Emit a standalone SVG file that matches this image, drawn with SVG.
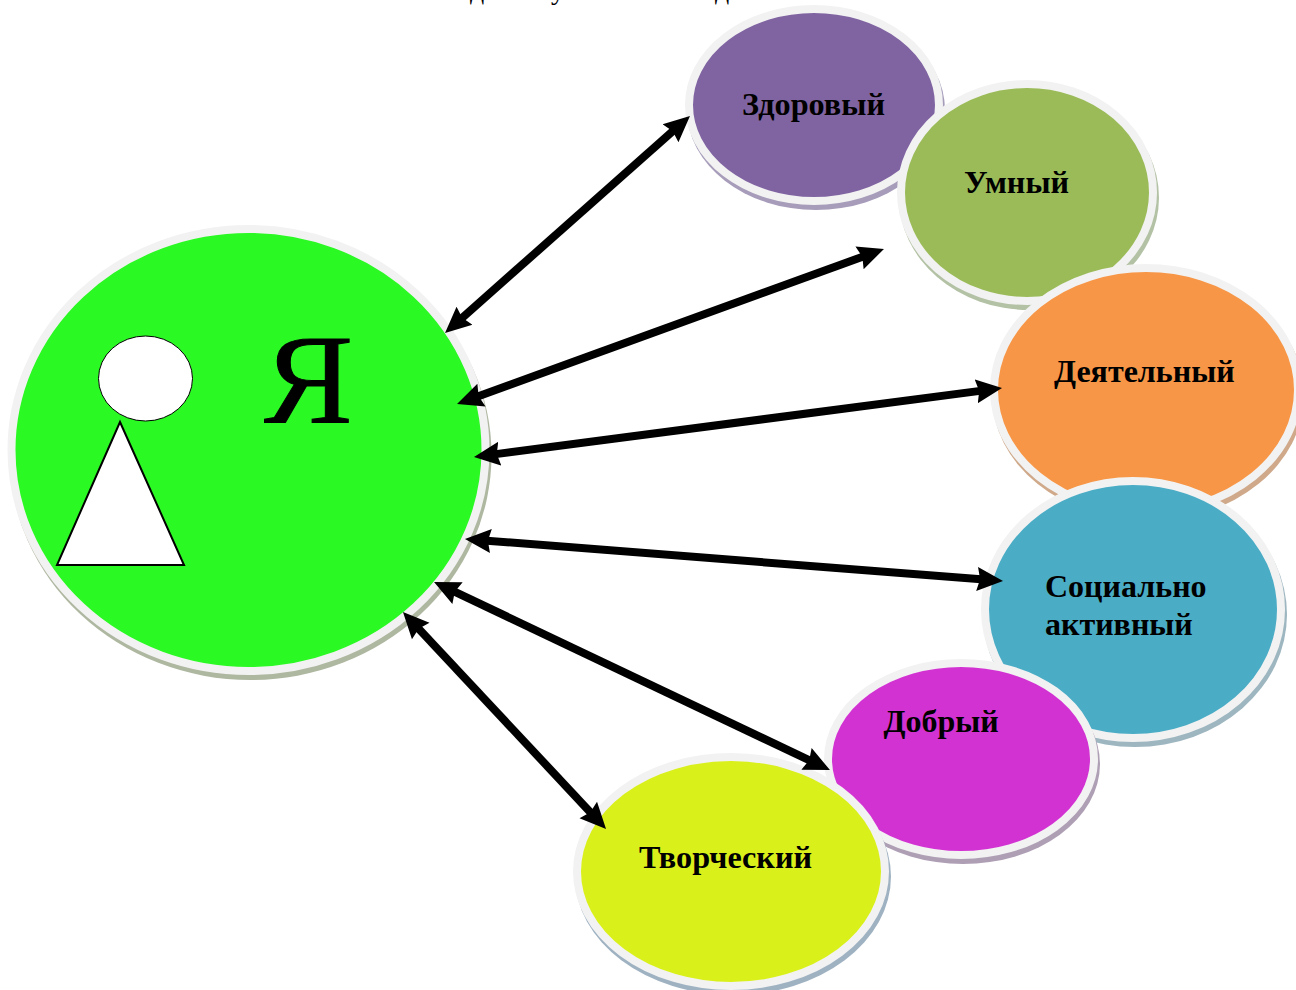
<svg xmlns="http://www.w3.org/2000/svg" width="1296" height="990" viewBox="0 0 1296 990">
<style>
.ring{stroke:#f2f2f2;stroke-width:8}
.lbl{font-family:"Liberation Serif","Times New Roman",serif;font-weight:700;font-size:32px;fill:#000}
.cut{font-family:"Liberation Serif","Times New Roman",serif;font-size:28px;fill:#000}
.big{font-family:"Liberation Serif","Times New Roman",serif;font-size:128px;fill:#000;stroke:#000;stroke-width:1}
.conn{stroke:#000;stroke-width:8;fill:none;marker-start:url(#head);marker-end:url(#head)}
</style>
<defs>
<marker id="head" markerUnits="userSpaceOnUse" markerWidth="28" markerHeight="26" refX="4" refY="13" orient="auto-start-reverse" viewBox="0 0 28 26">
<path d="M26 13L0 1L3 13L0 25Z" fill="#000"/>
</marker>
<clipPath id="cutYellow"><path clip-rule="evenodd" d="M400 560H860V800H400ZM577 871.500a154 114.500 0 1 0 308 0a154 114.500 0 1 0 -308 0Z"/></clipPath>
</defs>
<rect width="1296" height="990" fill="#fff"/>
<g id="cut-off-heading">
<text class="cut" x="470" y="-1">д</text>
<text class="cut" x="551" y="-1">у</text>
<text class="cut" x="715" y="-1">д</text>
</g>
<g id="node-zdorovy">
<ellipse cx="816" cy="110" rx="129" ry="100" fill="#a79cba"/>
<ellipse cx="814" cy="105" rx="125" ry="96" fill="#8064a2" class="ring"/>
<text class="lbl" x="742" y="115" textLength="143" lengthAdjust="spacingAndGlyphs">Здоровый</text>
</g>
<g id="node-umny">
<ellipse cx="1029" cy="197.500" rx="130" ry="112.500" fill="#b3c2a4"/>
<ellipse cx="1027" cy="192.500" rx="126" ry="108.500" fill="#9bbb59" class="ring"/>
<text class="lbl" x="964" y="193" textLength="105" lengthAdjust="spacingAndGlyphs">Умный</text>
</g>
<g id="node-deyatelny">
<ellipse cx="1148" cy="395" rx="156" ry="126" fill="#cfa98a"/>
<ellipse cx="1146" cy="390" rx="152" ry="122" fill="#f79646" class="ring"/>
<text class="lbl" x="1054" y="382">Деятельный</text>
</g>
<g id="node-sotsialno">
<ellipse cx="1135" cy="614.500" rx="152" ry="132.500" fill="#9db6c0"/>
<ellipse cx="1133" cy="609.500" rx="148" ry="128.500" fill="#4bacc6" class="ring"/>
<text class="lbl" x="1045" y="597">Социально</text>
<text class="lbl" x="1045" y="635">активный</text>
</g>
<g id="node-dobry">
<ellipse cx="963" cy="764" rx="137" ry="100" fill="#ae9fb5"/>
<ellipse cx="961" cy="759" rx="133" ry="96" fill="#d332d3" class="ring"/>
<text class="lbl" x="883.500" y="731.500">Добрый</text>
</g>
<g id="node-tvorchesky">
<ellipse cx="733" cy="876.500" rx="158" ry="118.500" fill="#9fb2c2"/>
<ellipse cx="731" cy="871.500" rx="154" ry="114.500" fill="#daf01a" class="ring"/>
<text class="lbl" x="639" y="867.500" textLength="173" lengthAdjust="spacingAndGlyphs">Творческий</text>
</g>
<g id="node-ya">
<ellipse cx="250.500" cy="455" rx="241" ry="225" fill="#aeb7a0"/>
<ellipse cx="248.500" cy="450" rx="237" ry="221" fill="#2af923" class="ring"/>
<ellipse cx="145.500" cy="378.500" rx="47" ry="42.500" fill="#fff" stroke="#000" stroke-width="1"/>
<path d="M120 422L184 565H57Z" fill="#fff" stroke="#000" stroke-width="2"/>
<text class="big" x="264" y="423" textLength="89" lengthAdjust="spacingAndGlyphs">Я</text>
</g>
<g id="connectors">
<line class="conn" x1="461.500" y1="318.400" x2="673.500" y2="130.600"/>
<line class="conn" x1="477.700" y1="396.500" x2="863.300" y2="256.500"/>
<line class="conn" x1="495.800" y1="454.150" x2="980.200" y2="390.850"/>
<line class="conn" x1="486.900" y1="540.700" x2="981.100" y2="579.300"/>
<line class="conn" x1="453.900" y1="591.400" x2="810.100" y2="760.600" clip-path="url(#cutYellow)"/>
<line class="conn" x1="418" y1="628.100" x2="591" y2="812.900"/>
</g>
</svg>
